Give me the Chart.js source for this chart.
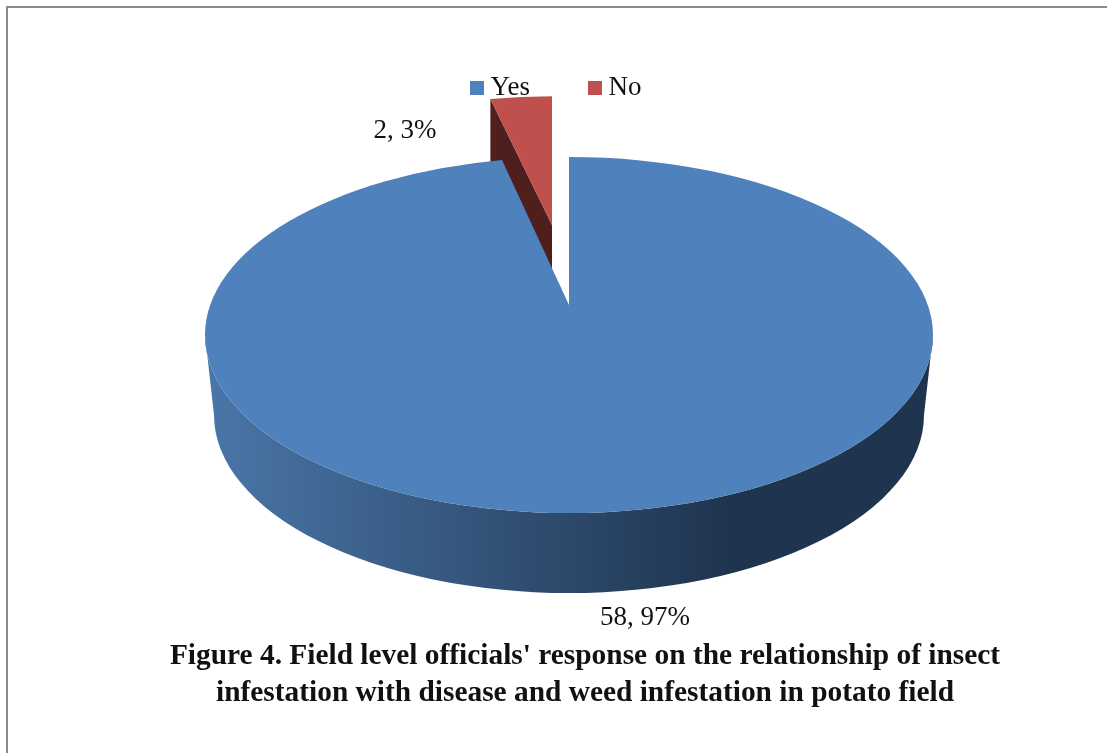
<!DOCTYPE html>
<html>
<head>
<meta charset="utf-8">
<script src="https://cdn.jsdelivr.net/npm/chart.js@4"></script>
<style>
  html, body { margin: 0; background: #fff; overflow: hidden; }
  .frame { position: absolute; left: 6px; top: 6px; right: 0; bottom: 0; border-left: 2px solid #8a8a8a; border-top: 2px solid #8a8a8a; }
  canvas { position: absolute; left: 0; top: 0; }
</style>
</head>
<body>
<div class="frame"></div>
<canvas id="pie" width="1107" height="753"></canvas>
<script>
// chart data
const categories = ['Yes', 'No'];
const seriesValues = [58, 2];
const sliceColors = ['#4f81bd', '#c0504d'];
const captionLines = [
  "Figure 4. Field level officials' response on the relationship of insect",
  'infestation with disease and weed infestation in potato field',
];

// look of the tilted pie
const face = { x: 569, y: 335, rx: 364, ry: 178, apexLift: 30, rimLift: 22 };
const base = { y: 415, rx: 355, ry: 178 };
const exploded = { dx: -17, dy: -80, scaleX: 0.92, scaleY: 0.87, depth: 80, cutColor: '#4f1f1d' };
const labelSpots = [{ x: 645, y: 618 }, { x: 405, y: 131 }];
const captionShift = 26;

const serif = 'Liberation Serif';

// canvas swatch, so the legend marker can stay square with a tight gap to the text
const swatch = (color) => {
  const box = document.createElement('canvas');
  box.width = box.height = 14;
  const boxCtx = box.getContext('2d');
  boxCtx.fillStyle = color;
  boxCtx.fillRect(0, 0, 14, 14);
  return box;
};

// the hub of a tilted pie sits above the middle of the ellipse, so the
// slice angles get pushed around the rim (perspective, done as a disk map)
const warpAngle = (angle) => {
  const p = face.rimLift / face.ry;
  const b = (1 - Math.sqrt(1 - p * p)) / p;
  const re = Math.cos(angle);
  const im = Math.sin(angle);
  // (z - ib) / (1 + ibz)
  const topRe = re;
  const topIm = im - b;
  const botRe = 1 - b * im;
  const botIm = b * re;
  return Math.atan2(topIm, topRe) - Math.atan2(botIm, botRe);
};

const slicePath = (ctx, arc) => {
  ctx.beginPath();
  ctx.moveTo(face.x, face.y - face.apexLift);
  ctx.ellipse(face.x, face.y, face.rx, face.ry, 0, warpAngle(arc.startAngle), warpAngle(arc.endAngle));
  ctx.closePath();
};

const rimPoint = (angle) => {
  const a = warpAngle(angle);
  return { x: face.x + face.rx * Math.cos(a), y: face.y + face.ry * Math.sin(a) };
};

// draws the pie from the arcs chart.js worked out
const tiltedPie = {
  id: 'tiltedPie',
  afterLayout(chart) {
    // the caption sits right of the page centre
    chart.titleBlock.left += captionShift;
    chart.titleBlock.right += captionShift;
  },
  beforeDatasetsDraw(chart) {
    const { ctx } = chart;
    const [yesArc, noArc] = chart.getDatasetMeta(0).data;
    const apexY = face.y - face.apexLift;
    const noApex = { x: face.x + exploded.dx, y: apexY + exploded.dy };

    // cut face of the pulled out slice
    const corner = rimPoint(noArc.startAngle);
    const cornerX = noApex.x + (corner.x - face.x) * exploded.scaleX;
    const cornerY = noApex.y + (corner.y - apexY) * exploded.scaleY;
    ctx.fillStyle = exploded.cutColor;
    ctx.beginPath();
    ctx.moveTo(cornerX, cornerY);
    ctx.lineTo(noApex.x, noApex.y);
    ctx.lineTo(noApex.x, noApex.y + exploded.depth);
    ctx.lineTo(cornerX, cornerY + exploded.depth);
    ctx.closePath();
    ctx.fill();

    // top of the pulled out slice
    ctx.save();
    ctx.translate(noApex.x, noApex.y);
    ctx.scale(exploded.scaleX, exploded.scaleY);
    ctx.translate(-face.x, -apexY);
    ctx.fillStyle = noArc.options.backgroundColor;
    slicePath(ctx, noArc);
    ctx.fill();
    ctx.restore();

    // side wall of the big slice
    const wall = ctx.createLinearGradient(face.x - face.rx, 0, face.x + face.rx, 0);
    wall.addColorStop(0, '#4a76a8');
    wall.addColorStop(0.72, '#1f344f');
    wall.addColorStop(1, '#1f344f');
    ctx.fillStyle = wall;
    ctx.beginPath();
    ctx.moveTo(face.x - face.rx, face.y);
    ctx.lineTo(face.x - base.rx, base.y);
    ctx.ellipse(face.x, base.y, base.rx, base.ry, 0, Math.PI, 0, true);
    ctx.lineTo(face.x + face.rx, face.y);
    ctx.ellipse(face.x, face.y, face.rx, face.ry, 0, 0, Math.PI);
    ctx.closePath();
    ctx.fill();

    // top of the big slice
    ctx.fillStyle = yesArc.options.backgroundColor;
    slicePath(ctx, yesArc);
    ctx.fill();

    // value labels
    const total = seriesValues.reduce((sum, v) => sum + v, 0);
    ctx.fillStyle = '#111';
    ctx.font = `27px "${serif}"`;
    ctx.textAlign = 'center';
    ctx.textBaseline = 'middle';
    seriesValues.forEach((v, i) => {
      ctx.fillText(`${v}, ${Math.round(v / total * 100)}%`, labelSpots[i].x, labelSpots[i].y);
    });
    return false;
  },
};

new Chart(document.getElementById('pie'), {
  type: 'pie',
  data: {
    labels: categories,
    datasets: [{ data: seriesValues, backgroundColor: sliceColors, borderWidth: 0 }],
  },
  plugins: [tiltedPie],
  options: {
    responsive: false,
    animation: false,
    layout: { padding: { top: 10, left: 11 } },
    plugins: {
      tooltip: { enabled: false },
      legend: {
        position: 'top',
        labels: {
          usePointStyle: true,
          pointStyleWidth: 0.5,
          padding: 64.5,
          color: '#111',
          font: { family: serif, size: 27 },
          generateLabels: (chart) => categories.map((name, i) => ({
            text: name,
            index: i,
            fontColor: '#111',
            pointStyle: swatch(sliceColors[i]),
          })),
        },
      },
      title: {
        display: true,
        position: 'bottom',
        text: captionLines,
        color: '#111',
        font: { family: serif, size: 29.4, weight: 'bold', lineHeight: 1.26 },
        padding: { top: 0, bottom: 41 },
      },
    },
  },
});
</script>
</body>
</html>
